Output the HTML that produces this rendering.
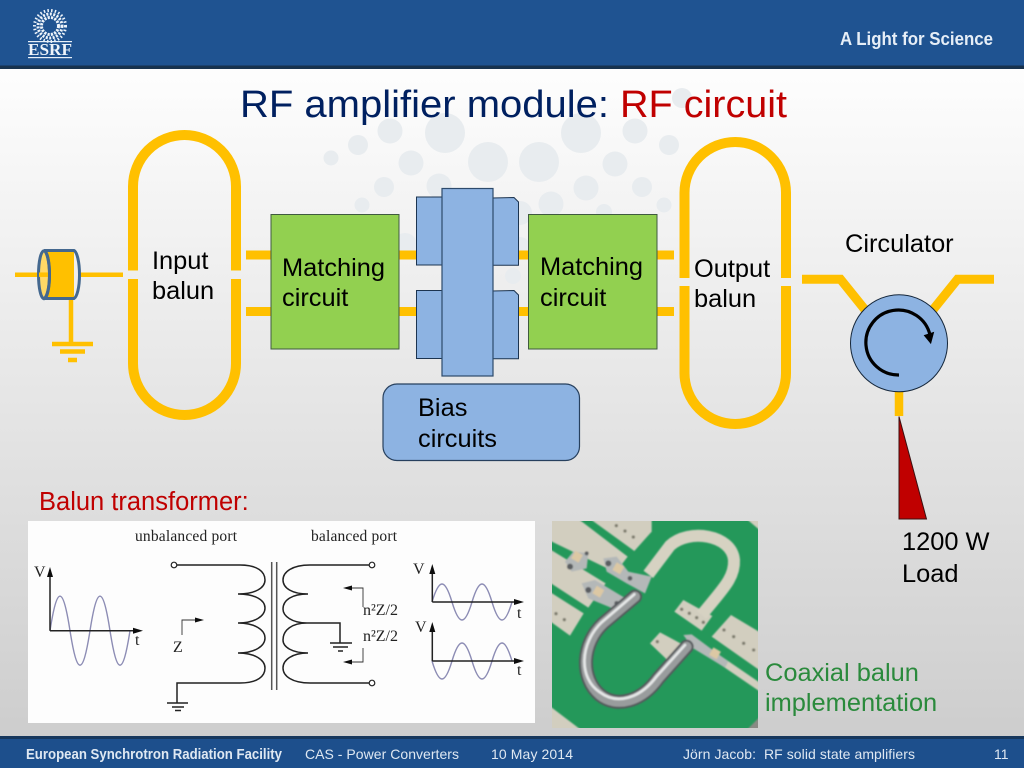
<!DOCTYPE html>
<html><head><meta charset="utf-8"><title>RF amplifier module</title>
<style>html,body{margin:0;padding:0;background:#fff}svg{display:block}
text{font-family:"Liberation Sans",sans-serif}
.s{font-family:"Liberation Serif",serif;fill:#222}
</style></head><body>
<svg xmlns="http://www.w3.org/2000/svg" width="1024" height="768" viewBox="0 0 1024 768">
<defs>
<linearGradient id="bg" x1="0" y1="0" x2="0" y2="1"><stop offset="0" stop-color="#fff"/><stop offset=".1" stop-color="#fdfdfd"/><stop offset="1" stop-color="#cbcbcb"/></linearGradient>
<filter id="b1" x="-5%" y="-5%" width="110%" height="110%"><feGaussianBlur stdDeviation="2.4"/></filter>
<filter id="b2" x="-5%" y="-5%" width="110%" height="110%"><feGaussianBlur stdDeviation="0.35"/></filter>
<filter id="b3" x="-10%" y="-10%" width="120%" height="120%"><feGaussianBlur stdDeviation="0.3"/></filter>
<clipPath id="ph"><rect x="552" y="521" width="206" height="207"/></clipPath>
</defs>
<rect width="1024" height="768" fill="url(#bg)"/>
<!-- bubbles -->
<g fill="#e8ecef">
<circle cx="390" cy="131" r="12.5"/><circle cx="445" cy="133" r="20"/><circle cx="358" cy="145" r="10"/><circle cx="331" cy="158" r="7.5"/><circle cx="411" cy="163" r="12.5"/><circle cx="488" cy="162" r="20"/><circle cx="539" cy="162" r="20"/><circle cx="581" cy="133" r="20"/><circle cx="635" cy="131" r="12.5"/><circle cx="669" cy="145" r="10"/><circle cx="615" cy="164" r="12.5"/><circle cx="586" cy="188" r="12.5"/><circle cx="642" cy="187" r="10"/><circle cx="384" cy="187" r="10"/><circle cx="439" cy="186" r="12.5"/><circle cx="362" cy="205" r="7.5"/><circle cx="551" cy="204" r="12.5"/><circle cx="664" cy="205" r="7.5"/><circle cx="513" cy="276" r="8"/><circle cx="405" cy="245" r="12"/><circle cx="520" cy="213" r="12"/><circle cx="520" cy="247" r="10"/><circle cx="604" cy="212" r="8"/><circle cx="682" cy="98" r="10"/>
</g>
<!-- header -->
<rect x="0" y="0" width="1024" height="67" fill="#1f5391"/>
<rect x="0" y="65.5" width="1024" height="3.5" fill="#17324e"/>
<!-- logo -->
<g fill="none" stroke="#eef4fa" filter="url(#b3)">
<circle cx="50" cy="26" r="8.5" stroke-width="3" stroke-dasharray="2.2 1.2"/>
<circle cx="50" cy="26" r="12" stroke-width="3" stroke-dasharray="2 1.5"/>
<circle cx="50" cy="26" r="15.5" stroke-width="3" stroke-dasharray="1.5 2.2"/>
</g>
<rect x="28" y="41" width="44" height="1.2" fill="#e8f0f8"/>
<text x="28" y="55" font-size="16.5" font-weight="bold" textLength="44" lengthAdjust="spacingAndGlyphs" fill="#eef4fa" style="font-family:'Liberation Serif',serif">ESRF</text>
<rect x="28" y="57" width="44" height="1.2" fill="#e8f0f8"/>
<text x="840" y="45" font-size="18" font-weight="bold" fill="#e6eef7" textLength="153" lengthAdjust="spacingAndGlyphs">A Light for Science</text>
<!-- title -->
<text x="240" y="117" font-size="38" fill="#002060" textLength="369" lengthAdjust="spacingAndGlyphs">RF amplifier module:</text>
<text x="620" y="117" font-size="38" fill="#c00000" textLength="167" lengthAdjust="spacingAndGlyphs">RF circuit</text>

<!-- orange conductors -->
<g fill="none" stroke="#ffc000" stroke-width="10">
<path d="M133 270.5V186.5A51.5 51.5 0 0 1 236 186.5V270.5"/>
<path d="M133 279V363.5A51.5 51.5 0 0 0 236 363.5V279"/>
<path d="M684.5 278V192.75A50.75 50.75 0 0 1 786 192.75V278"/>
<path d="M684.5 286V373.25A50.75 50.75 0 0 0 786 373.25V286"/>
</g>
<g stroke="#ffc000" stroke-width="9" fill="none">
<path d="M246 255H271M246 311.5H271M399 255H416M399 311.5H416M519 255H528M519 311.5H528M657 255H674M657 311.5H674"/>
</g>
<!-- coax -->
<g stroke="#ffc000" stroke-width="4.5" fill="none">
<path d="M15 274.7H50M80 274.7H123M71 299V344M52 344H93M60 351.5H85M68 360H77"/>
</g>
<path d="M44 250H74V299H44Z" fill="#ffc000"/>
<ellipse cx="44" cy="274.7" rx="5.5" ry="24" fill="#ffd966" stroke="#44688f" stroke-width="3"/>
<path d="M39 274.7H50" stroke="#ffc000" stroke-width="4.5"/>
<path d="M44 250.5H74C77 252 79.5 262 79.5 274.7S77 297 74 298.5H44" fill="none" stroke="#44688f" stroke-width="3"/>
<path d="M44 250.5C47 252 49.5 262 49.5 274.7S47 297 44 298.5" fill="none" stroke="#44688f" stroke-width="3"/>

<!-- matching -->
<rect x="271" y="214.5" width="128" height="134.5" fill="#92d050" stroke="#3f5a3f" stroke-width="1"/>
<rect x="528.5" y="214.5" width="128.5" height="134.5" fill="#92d050" stroke="#3f5a3f" stroke-width="1"/>
<!-- transistor -->
<g fill="#8db3e2" stroke="#1c3450" stroke-width="1">
<rect x="416.5" y="197" width="26" height="68"/>
<rect x="416.5" y="290.5" width="26" height="68"/>
<path d="M492 198L514 197.5L518.5 202V265.3H492Z"/>
<path d="M492 291L514 290.5L518.5 295V358.7H492Z"/>
</g>
<rect x="442" y="188.5" width="51" height="187.5" fill="#8db3e2" stroke="#2d4a6b" stroke-width="1.2"/>
<rect x="383" y="384" width="196.5" height="76.5" rx="14" fill="#8db3e2" stroke="#27405e" stroke-width="1.2"/>

<!-- circulator -->
<g fill="none" stroke="#ffc000" stroke-width="9">
<path d="M802 279.3H840.5L866 311M994 279.3H957.5L932 311"/>
<path d="M899 390V416" stroke-width="8.5"/>
</g>
<circle cx="899" cy="343.3" r="48.5" fill="#8db3e2" stroke="#14263a" stroke-width="1"/>
<path d="M899 375A32.5 32.5 0 1 1 930 335" fill="none" stroke="#000" stroke-width="3.2"/>
<path d="M924.5 335.5L933.5 332.5L930.7 343Z" fill="#000" stroke="#000" stroke-width="1"/>
<path d="M899 416.5V519H926.5Z" fill="#c00000" stroke="#3a1010" stroke-width="1"/>

<!-- labels -->
<g font-size="25.4" fill="#000">
<text x="152" y="269">Input</text><text x="152" y="299">balun</text>
<text x="282" y="276">Matching</text><text x="282" y="306">circuit</text>
<text x="540" y="275">Matching</text><text x="540" y="306">circuit</text>
<text x="694" y="277">Output</text><text x="694" y="307">balun</text>
<text x="418" y="416">Bias</text><text x="418" y="447">circuits</text>
<text x="845" y="252">Circulator</text>
<text x="902" y="550">1200 W</text><text x="902" y="582">Load</text>
</g>
<text x="39" y="510" font-size="25.5" fill="#c00000">Balun transformer:</text>
<text x="765" y="681" font-size="25.4" fill="#2a8a3c">Coaxial balun</text>
<text x="765" y="711" font-size="25.4" fill="#2a8a3c">implementation</text>

<!-- transformer image -->
<rect x="28" y="521" width="507" height="202" fill="#fdfdfd"/>
<g filter="url(#b2)">
<text class="s" x="135" y="541" font-size="15.5" textLength="102">unbalanced port</text>
<text class="s" x="311" y="541" font-size="15.5" textLength="86">balanced port</text>
<g fill="none" stroke="#8c8cb4" stroke-width="1.4">
<path d="M50 630.7C57.2 584.7 62.8 584.7 70 630.7C77.2 676.7 82.8 676.7 90 630.7C97.2 584.7 102.8 584.7 110 630.7C117.2 676.7 122.8 676.7 130 630.7"/>
<path d="M432 602C439.2 578 444.8 578 452 602C459.2 626 464.8 626 472 602C479.2 578 484.8 578 492 602C499.2 626 504.8 626 512 602"/>
<path d="M432 661C439.2 685 444.8 685 452 661C459.2 637 464.8 637 472 661C479.2 685 484.8 685 492 661C499.2 637 504.8 637 512 661"/>
</g>
<g fill="none" stroke="#222" stroke-width="1.5">
<path d="M50 630.7V572M50 630.7H136"/>
<path d="M432.3 602V568M432.3 602H518"/>
<path d="M432.3 661V626M432.3 661H518"/>
<path d="M177 565H240C258 565 265 572 265 580C265 588 255 594 238 594C255 594 265 600 265 608C265 616 255 623 238 623C255 623 265 630 265 638C265 646 255 653 238 653C255 653 265 660 265 668C265 676 258 683 240 683H177V703"/>
<path d="M310 565H369M283 580C283 572 292 565 310 565M283 580C283 588 292 594 308 594C292 594 283 600 283 609C283 616 292 623 307 623C292 623 283 630 283 640C283 647 292 653 308 653C292 653 283 660 283 668C283 676 292 683 310 683H369"/>
<path d="M307 623H340V643"/>
<path d="M167 703H188M172 707H184M175 710.5H181M330 643H352M333 647H348M338 651H343"/>
<path d="M271.7 562V690M276.7 562V690" stroke="#555"/>
</g>
<g fill="none" stroke="#333" stroke-width="0.9">
<path d="M182 635V620H198M363 607V588H348M363 648V662H348"/>
</g>
<circle cx="174" cy="565" r="2.8" fill="#fff" stroke="#222" stroke-width="1.2"/>
<circle cx="372" cy="565" r="2.8" fill="#fff" stroke="#222" stroke-width="1.2"/>
<circle cx="372" cy="683" r="2.8" fill="#fff" stroke="#222" stroke-width="1.2"/>
<g fill="#111">
<path d="M50 567L47 577H53Z"/><path d="M143 630.7L133 627.7V633.7Z"/>
<path d="M432.3 564L429.3 574H435.3Z"/><path d="M524 602L514 599V605Z"/>
<path d="M432.3 622L429.3 632H435.3Z"/><path d="M524 661L514 658V664Z"/>
<path d="M204 620L195 617.5V622.5Z"/><path d="M343 588L352 585.5V590.5Z"/><path d="M343 662L352 659.5V664.5Z"/>
</g>
<text class="s" font-size="16" x="34" y="577">V</text><text class="s" font-size="16" x="135" y="645">t</text>
<text class="s" font-size="16" x="173" y="652">Z</text>
<text class="s" font-size="16" x="363" y="615" textLength="35">n²Z/2</text><text class="s" font-size="16" x="363" y="641" textLength="35">n²Z/2</text>
<text class="s" font-size="16" x="413" y="574">V</text><text class="s" font-size="16" x="517" y="618">t</text>
<text class="s" font-size="16" x="415" y="632">V</text><text class="s" font-size="16" x="517" y="675">t</text>
</g>

<!-- photo -->
<g clip-path="url(#ph)">
<rect x="552" y="521" width="206" height="207" fill="#24985a"/>
<g transform="translate(545 515) scale(.33333)" filter="url(#b1)">
<g fill="#d2cebf">
<path d="M10 8H95L248 125L212 172L10 75Z"/>
<path d="M130 8H320V50L268 108Z"/>
<path d="M10 100L182 205L130 278L10 200Z"/>
<path d="M10 228L116 295L75 362L10 315Z"/>
<path d="M500 365L558 300L650 355V470Z"/>
<path d="M315 385L345 352L412 388L372 440Z"/>
<path d="M388 290L415 255L502 303L470 347Z"/>
<path d="M10 570L115 650H10Z"/>
<path d="M600 8H650V50Z"/>
</g>
<path d="M310 178L375 92C430 40 560 58 567 135C570 190 530 225 470 300" fill="none" stroke="#d6d2c2" stroke-width="36"/>
<path d="M430 370L650 520" fill="none" stroke="#d2cebf" stroke-width="22"/>
<path d="M600 650L650 600V650Z" fill="#8a8a84"/>
<g fill="#7b7a6c">
<circle cx="214" cy="32" r="5"/><circle cx="240" cy="48" r="5"/><circle cx="265" cy="66" r="5"/>
<circle cx="410" cy="283" r="5"/><circle cx="433" cy="295" r="5"/><circle cx="455" cy="308" r="5"/><circle cx="475" cy="322" r="5"/>
<circle cx="537" cy="345" r="5"/><circle cx="566" cy="365" r="5"/><circle cx="596" cy="385" r="5"/><circle cx="626" cy="405" r="5"/>
<circle cx="33" cy="296" r="5"/><circle cx="58" cy="314" r="5"/><circle cx="337" cy="380" r="5"/>
</g>
<g fill="#b4b8b8">
<path d="M60 140L85 110L130 115L125 160L80 170Z"/>
<path d="M175 130L215 125L250 170L320 185L300 235L245 205L185 170Z"/>
<path d="M110 205L150 195L250 255L215 285L130 250Z"/>
<path d="M415 360L440 358L550 440L540 458L445 400Z"/>
</g>
<g fill="#5a5d60"><circle cx="75" cy="155" r="9"/><circle cx="125" cy="115" r="6"/><circle cx="190" cy="145" r="9"/><circle cx="130" cy="225" r="9"/><circle cx="255" cy="190" r="7"/><circle cx="215" cy="265" r="7"/></g>
<g fill="#dcc8a4">
<rect x="83" y="112" width="26" height="26" transform="rotate(30 96 125)"/>
<rect x="207" y="147" width="26" height="26" transform="rotate(30 220 160)"/>
<rect x="147" y="217" width="26" height="26" transform="rotate(30 160 230)"/>
<rect x="497" y="402" width="26" height="26" transform="rotate(30 510 415)"/>
</g>
<g fill="none" stroke-linecap="round">
<path d="M270 245L175 325C110 385 105 490 165 540C215 580 290 560 340 490L425 395" stroke="#55595c" stroke-width="42"/>
<path d="M270 245L175 325C110 385 105 490 165 540C215 580 290 560 340 490L425 395" stroke="#999c9d" stroke-width="30"/>
<path d="M268 238L170 322C104 385 100 490 165 532C215 570 285 552 335 484L420 390" stroke="#e6e8e8" stroke-width="8"/>
</g>
</g>
</g>

<!-- footer -->
<rect x="0" y="736" width="1024" height="32" fill="#1d4f8c"/>
<rect x="0" y="736" width="1024" height="3" fill="#16375c"/>
<text x="26" y="759" font-size="15" font-weight="bold" fill="#dfe8f2" textLength="256" lengthAdjust="spacingAndGlyphs">European Synchrotron Radiation Facility</text>
<g font-size="14" fill="#dfe8f2">
<text x="305" y="759" textLength="154">CAS - Power Converters</text>
<text x="491" y="759" textLength="82">10 May 2014</text>
<text x="683" y="759" textLength="232" xml:space="preserve">Jörn Jacob:  RF solid state amplifiers</text>
<text x="994" y="759">11</text>
</g>
</svg>
</body></html>
